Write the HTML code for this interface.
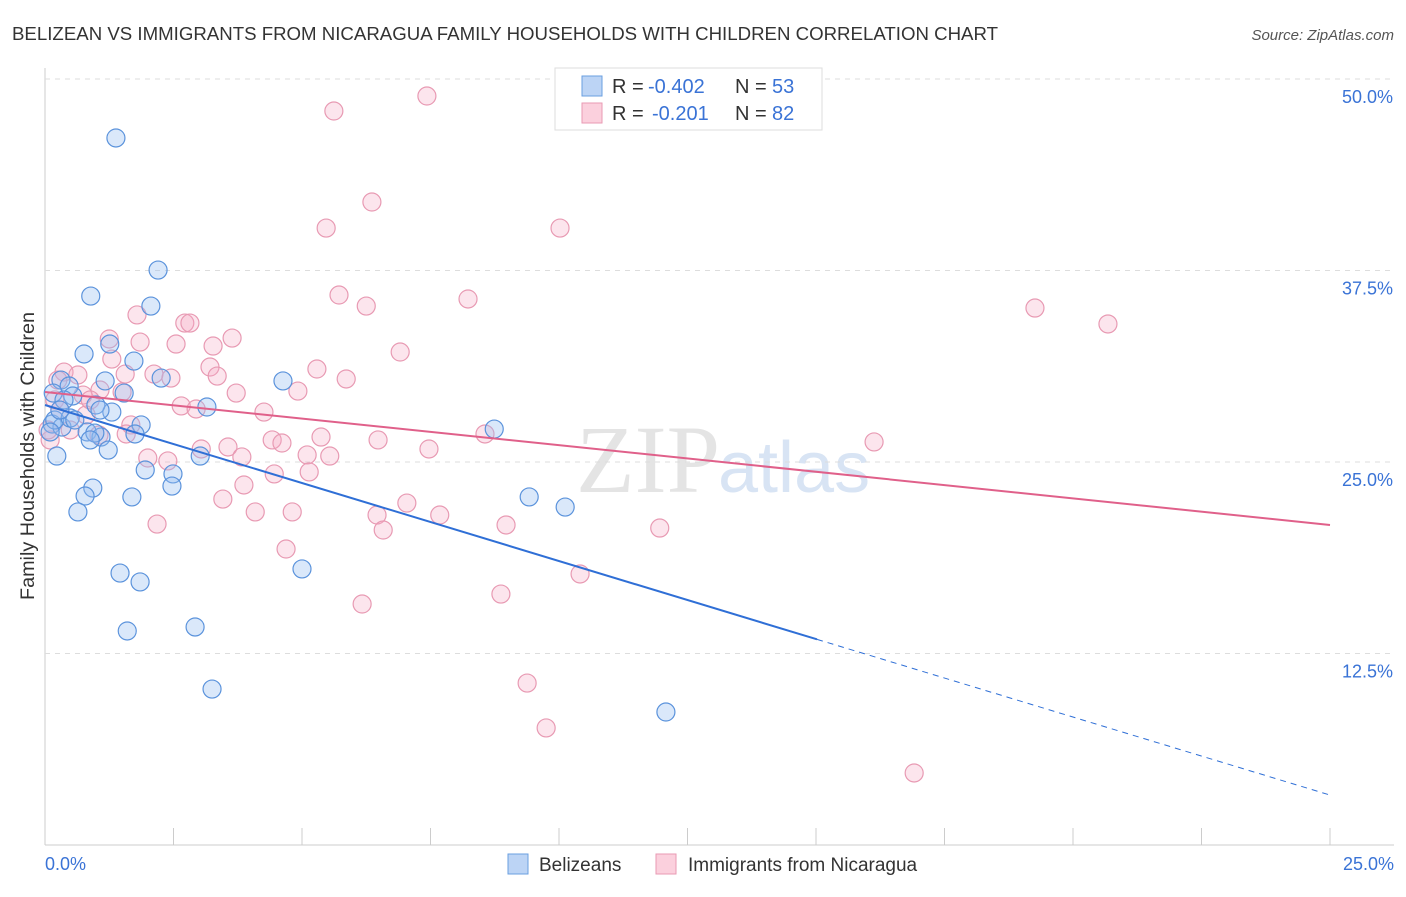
<!DOCTYPE html>
<html><head><meta charset="utf-8"><style>
body{margin:0;background:#fff;font-family:"Liberation Sans",sans-serif}
</style></head><body>
<svg id="c" width="1406" height="892" xmlns="http://www.w3.org/2000/svg" style="font-family:'Liberation Sans',sans-serif">
<text x="12" y="40" font-size="18" fill="#333" textLength="986" lengthAdjust="spacingAndGlyphs">BELIZEAN VS IMMIGRANTS FROM NICARAGUA FAMILY HOUSEHOLDS WITH CHILDREN CORRELATION CHART</text>
<text x="1394" y="40" font-size="15" fill="#555" text-anchor="end" font-style="italic">Source: ZipAtlas.com</text>
<text x="720" y="492" font-size="96" fill="#e4e4e4" text-anchor="end" font-family="Liberation Serif,serif">ZIP</text>
<text x="718" y="492" font-size="72" fill="#d8e4f4">atlas</text>
<g id="grid"></g><g id="pts"></g><g id="lines"></g>
<text x="34" y="456" font-size="19" fill="#333" text-anchor="middle" textLength="288" lengthAdjust="spacingAndGlyphs" transform="rotate(-90 34 456)">Family Households with Children</text>
<g>
<rect x="555" y="68" width="267" height="62" fill="#fff" stroke="#ddd"/>
<rect x="582" y="76" width="20" height="20" fill="#bcd4f5" stroke="#6a9fe0"/>
<rect x="582" y="103" width="20" height="20" fill="#fbd0dd" stroke="#e89ab3"/>
<text x="612" y="93" font-size="20" fill="#333">R =</text>
<text x="648" y="93" font-size="20" fill="#3a73d6">-0.402</text>
<text x="735" y="93" font-size="20" fill="#333">N =</text>
<text x="772" y="93" font-size="20" fill="#3a73d6">53</text>
<text x="612" y="120" font-size="20" fill="#333">R =</text>
<text x="652" y="120" font-size="20" fill="#3a73d6">-0.201</text>
<text x="735" y="120" font-size="20" fill="#333">N =</text>
<text x="772" y="120" font-size="20" fill="#3a73d6">82</text>
</g>
<g>
<rect x="508" y="854" width="20" height="20" fill="#bcd4f5" stroke="#6a9fe0"/>
<text x="539" y="871" font-size="19" fill="#333">Belizeans</text>
<rect x="656" y="854" width="20" height="20" fill="#fbd0dd" stroke="#e89ab3"/>
<text x="688" y="871" font-size="19" fill="#333">Immigrants from Nicaragua</text>
</g>
</svg>
<script>
const xTicks=["0.0%","25.0%"];
const yTickVals=[12.5,25,37.5,50];
const yTickLabels=["12.5%","25.0%","37.5%","50.0%"];
const blueX=[1.38,2.20,0.89,2.06,1.26,0.76,1.73,2.26,0.31,0.47,1.17,4.63,1.54,0.54,0.16,3.15,1.30,0.99,0.14,1.87,0.33,0.82,1.09,1.75,1.23,0.23,3.02,1.95,2.49,2.47,0.93,0.78,1.69,0.64,8.74,9.42,10.12,1.46,1.85,5.00,1.60,2.92,3.25,12.08,0.19,1.07,0.49,0.37,0.10,0.97,0.58,0.88,0.29];
const blueY=[46.15,37.53,35.83,35.18,32.70,32.05,31.59,30.48,30.35,29.96,30.29,30.29,29.50,29.31,29.50,28.59,28.26,28.72,27.48,27.42,27.28,26.96,26.63,26.83,25.78,25.39,25.39,24.48,24.22,23.43,23.30,22.78,22.72,21.74,27.15,22.72,22.06,17.75,17.17,18.02,13.97,14.23,10.18,8.68,27.74,28.39,27.87,29.05,26.96,26.89,27.74,26.44,28.39];
const pinkX=[7.43,5.62,6.36,5.47,10.02,5.72,6.25,8.23,19.26,20.68,1.79,2.72,2.82,1.25,1.85,2.55,3.27,3.64,6.91,1.30,0.37,0.64,3.21,5.29,2.12,2.45,3.35,1.56,5.86,1.07,3.72,1.50,0.74,0.19,4.92,2.65,2.94,4.26,0.29,0.80,1.67,1.58,1.05,5.37,6.48,4.42,4.61,8.56,7.47,16.13,3.04,3.56,3.83,5.10,5.54,2.00,2.39,4.46,5.14,3.87,3.46,7.04,4.09,4.81,6.46,7.68,8.97,11.96,2.18,6.58,4.69,10.41,6.17,8.87,9.38,9.75,16.91,0.10,0.06,0.49,0.88,0.25];
const pinkY=[48.89,47.91,41.97,40.27,40.27,35.90,35.18,35.64,35.05,34.01,34.60,34.07,34.07,33.03,32.83,32.70,32.57,33.09,32.18,31.72,30.87,30.68,31.20,31.07,30.74,30.48,30.61,30.74,30.42,29.70,29.50,29.57,29.37,29.05,29.63,28.66,28.46,28.26,28.39,28.07,27.42,26.83,26.76,26.63,26.44,26.44,26.24,26.83,25.85,26.31,25.85,25.98,25.33,25.46,25.39,25.26,25.07,24.22,24.35,23.50,22.58,22.32,21.74,21.74,21.54,21.54,20.89,20.69,20.95,20.56,19.32,17.69,15.73,16.38,10.57,7.64,4.70,26.44,27.09,27.09,29.05,30.35];
const blueTrend=[28.72,3.26], blueSolidEnd=15.02;
const pinkTrend=[29.57,20.89];
const X=v=>45+v*51.4, Y=v=>845-v*15.32;
const NS="http://www.w3.org/2000/svg";
function mk(tag,attrs,parent){const e=document.createElementNS(NS,tag);for(const k in attrs)e.setAttribute(k,attrs[k]);document.getElementById(parent).appendChild(e);return e;}
mk('line',{x1:45,y1:68,x2:45,y2:845,stroke:'#ccc'},'grid');
mk('line',{x1:45,y1:845,x2:1394,y2:845,stroke:'#ccc'},'grid');
for(let i=0;i<=10;i++){mk('line',{x1:X(i*2.5),y1:828,x2:X(i*2.5),y2:845,stroke:'#ccc'},'grid');}
yTickVals.forEach((v,i)=>{
 const g=mk('line',{x1:45,y1:Y(v),x2:1394,y2:Y(v),stroke:'#ddd','stroke-dasharray':'5,5'},'grid');
 
 
 const t=mk('text',{x:1393,y:Y(v)+24,'font-size':18,fill:'#3a73d6','text-anchor':'end'},'grid');
 t.textContent=yTickLabels[i];
 
 
});
xTicks.forEach((s,i)=>{const t=mk('text',{x:i?1394:45,y:870,'font-size':18,fill:'#3a73d6','text-anchor':i?'end':'start'},'grid');t.textContent=s;
 
 });
pinkX.forEach((v,i)=>{const c=mk('circle',{cx:X(v),cy:Y(pinkY[i]),r:9,fill:'rgba(245,170,195,0.3)',stroke:'#e89ab3','stroke-width':1.2},'pts');
 
 });
blueX.forEach((v,i)=>{const c=mk('circle',{cx:X(v),cy:Y(blueY[i]),r:9,fill:'rgba(150,190,240,0.35)',stroke:'#5b93dc','stroke-width':1.2},'pts');
 
 });
const by=x=>blueTrend[0]+(blueTrend[1]-blueTrend[0])*x/25;
let l=mk('line',{x1:X(0),y1:Y(by(0)),x2:X(blueSolidEnd),y2:Y(by(blueSolidEnd)),stroke:'#2f6fd6','stroke-width':2},'lines');


l=mk('line',{x1:X(blueSolidEnd),y1:Y(by(blueSolidEnd)),x2:X(25),y2:Y(by(25)),stroke:'#2f6fd6','stroke-width':1,'stroke-dasharray':'6,5'},'lines');


l=mk('line',{x1:X(0),y1:Y(pinkTrend[0]),x2:X(25),y2:Y(pinkTrend[1]),stroke:'#e0608a','stroke-width':2},'lines');


</script>
</body></html>
